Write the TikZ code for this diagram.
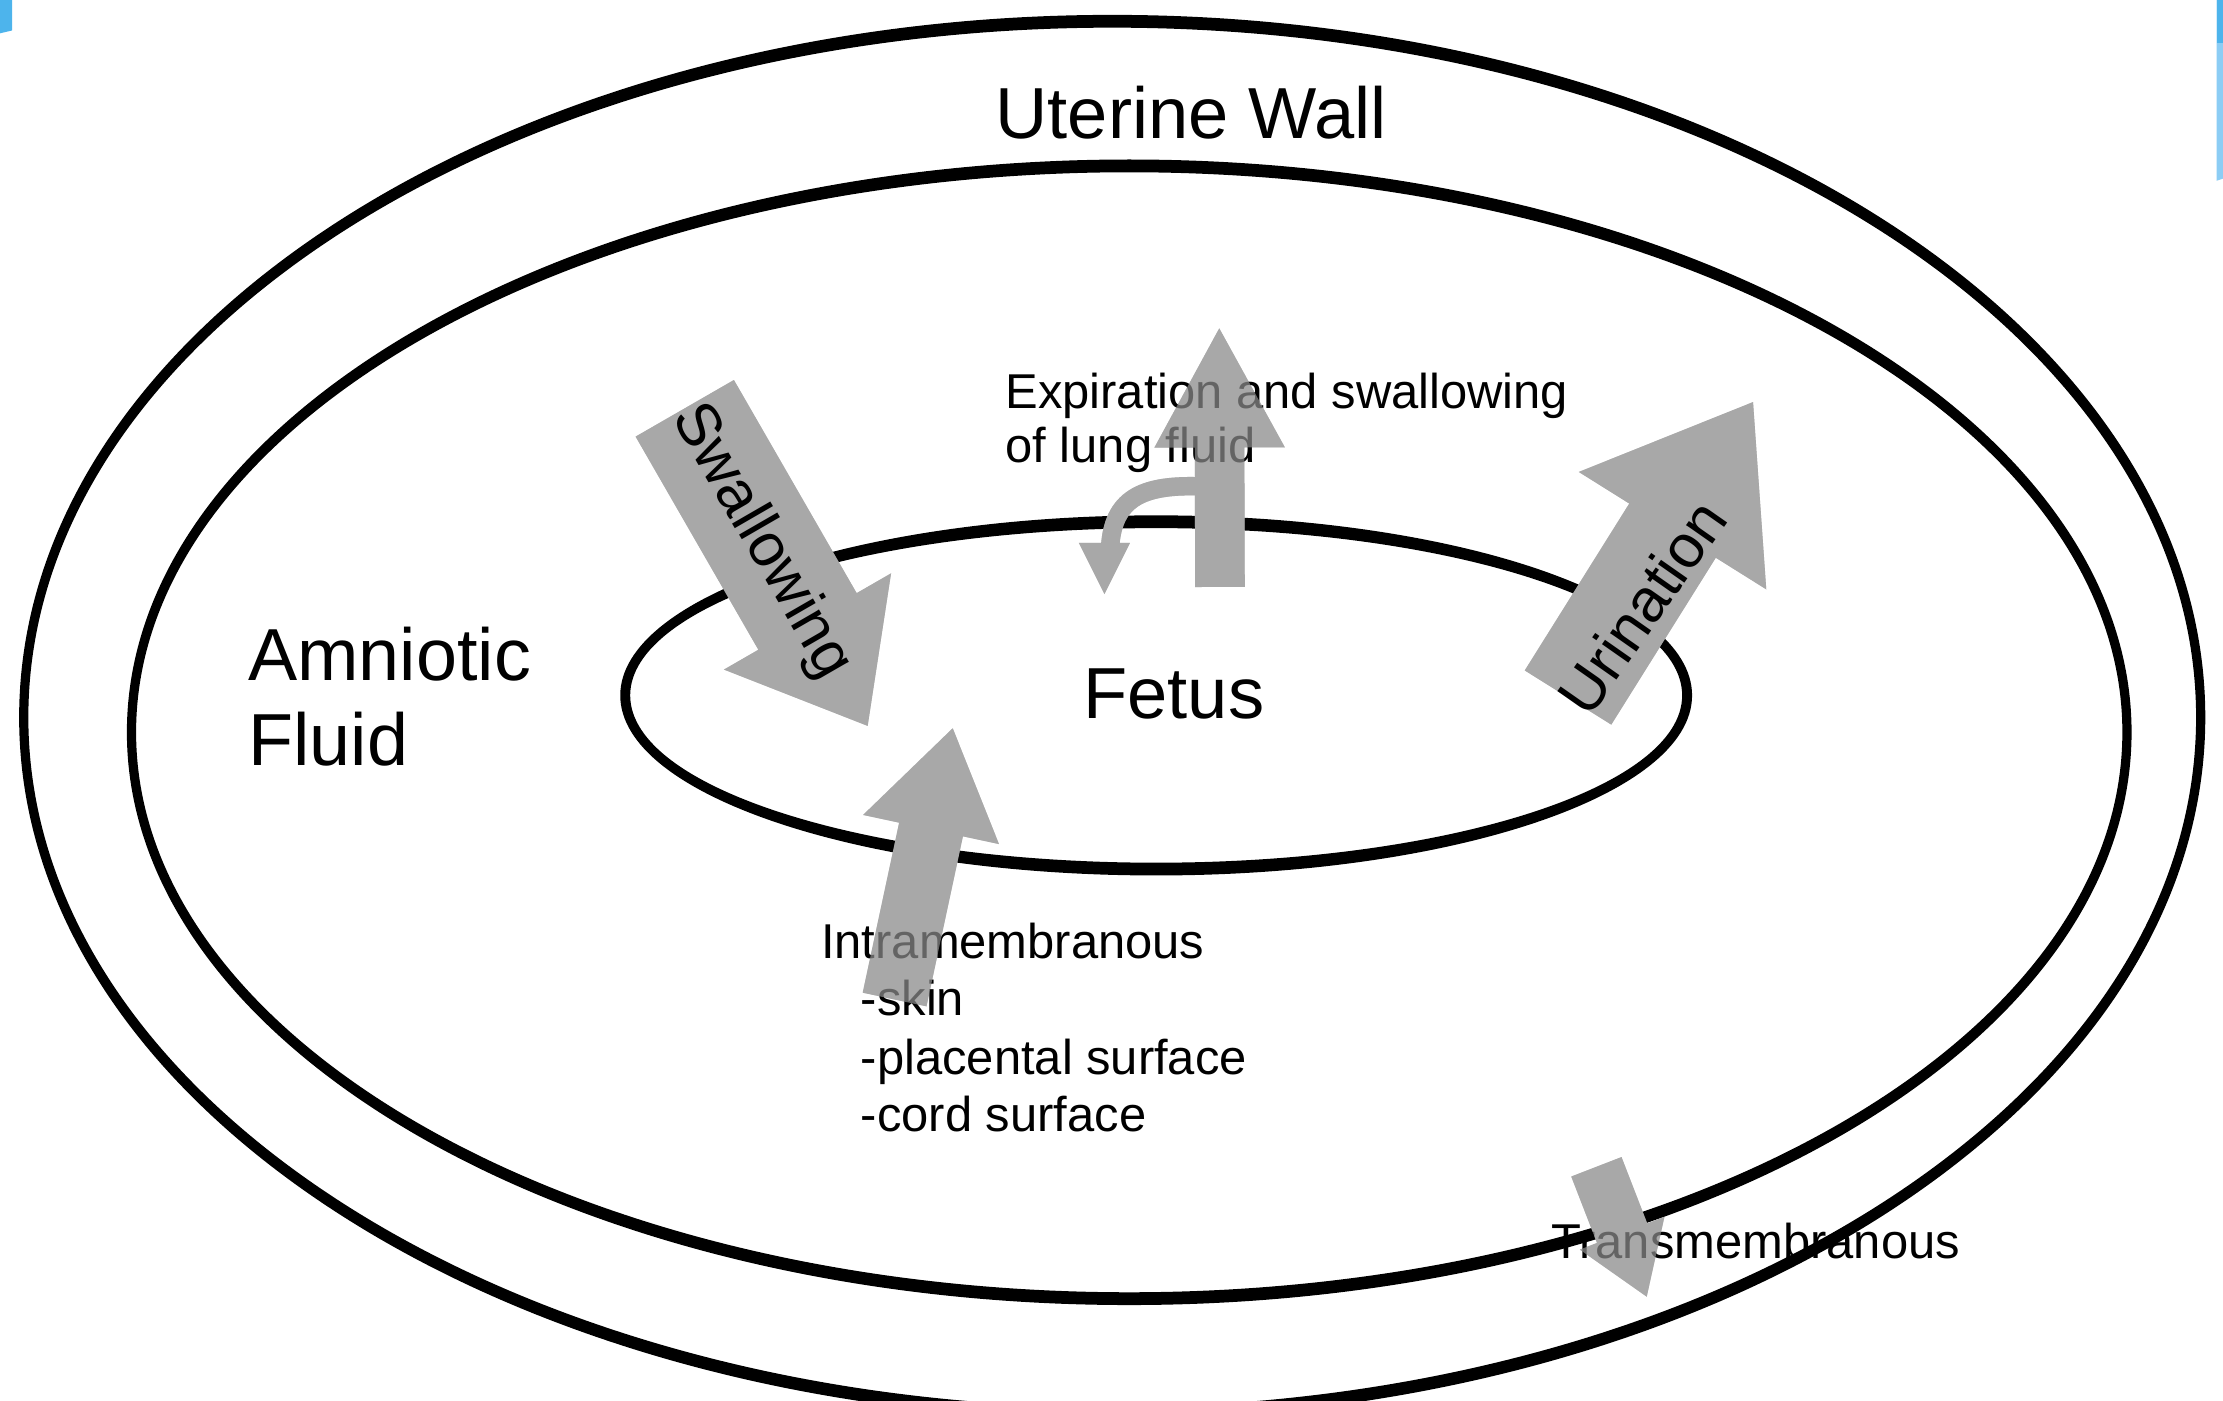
\documentclass[tikz,border=0pt]{standalone}
\usepackage{fontspec}
\setmainfont{Liberation Sans}
\usetikzlibrary{calc}
\definecolor{arrowgray}{RGB}{168,168,168}
\definecolor{bluemarkA}{RGB}{77,180,236}
\definecolor{bluemarkB}{RGB}{140,205,245}
% block arrow: #1 prefix of (prefix-tail),(prefix-tip); #2 style; #3 shaft half width; #4 head half width; #5 head length
\newcommand{\blockarrow}[5]{%
  \coordinate (#1-base) at ($(#1-tip)!#5!(#1-tail)$);
  \fill[#2] ($(#1-tail)!#3!90:(#1-tip)$) -- ($(#1-base)!#3!-90:(#1-tail)$) -- ($(#1-base)!#4!-90:(#1-tail)$) -- (#1-tip) -- ($(#1-base)!#4!90:(#1-tail)$) -- ($(#1-base)!#3!90:(#1-tail)$) -- ($(#1-tail)!#3!-90:(#1-tip)$) -- cycle;}
\newcommand{\allarrows}[1]{%
  \blockarrow{sw}{#1}{40pt}{68pt}{85pt}
  \blockarrow{ur}{#1}{36pt}{78pt}{107pt}
  \blockarrow{im}{#1}{23pt}{49pt}{73pt}
  \blockarrow{ex}{#1}{17.5pt}{46pt}{84pt}
  \blockarrow{tm}{#1}{19pt}{32pt}{48pt}
  \path[#1, fill=none, draw=arrowgray, line width=13pt] (curl-start) .. controls (805,342) and (785,352) .. (curl-end);
  \fill[#1] (761,383) -- (797,383) -- (curl-tip) -- cycle;}
\begin{document}
\begin{tikzpicture}[x=1pt,y=-1pt,
  big/.style={font=\fontsize{51}{60}\selectfont, inner sep=0pt, anchor=base west},
  small/.style={font=\fontsize{34.5}{40}\selectfont, inner sep=0pt, anchor=base west},
  rottext/.style={font=\fontsize{43}{48}\selectfont, inner sep=0pt},
  ring/.style={fill=black, even odd rule},
  arrowsolid/.style={fill=arrowgray},
  arrowveil/.style={fill=arrowgray, opacity=0.6}]
\useasboundingbox (0,0) rectangle (1568,988);
\fill[white] (0,0) rectangle (1568,988);
% blue edge marks
\fill[bluemarkA] (0,0) -- (8.5,0) -- (8.5,21.5) -- (0,23.5) -- cycle;
\fill[bluemarkB] (1563.5,0) -- (1568,0) -- (1568,126) -- (1563.5,127.5) -- cycle;
\fill[bluemarkA] (1563.5,0) rectangle (1568,30);
% ellipses
\coordinate (outer-c) at (784.5,506);
\coordinate (mid-c) at (796.5,516.5);
\coordinate (fetus-c) at (815.5,490.5);
\fill[ring] (outer-c) ellipse [x radius=771, y radius=495.5] (outer-c) ellipse [x radius=764.5, y radius=486.5];
\fill[ring] (mid-c) ellipse [x radius=707, y radius=404] (mid-c) ellipse [x radius=700.5, y radius=395];
\fill[ring] (fetus-c) ellipse [x radius=378, y radius=127] (fetus-c) ellipse [x radius=371, y radius=118];
% arrow coordinates
\coordinate (sw-tail) at (483,288);
\coordinate (sw-tip) at (612,512);
\coordinate (ur-tail) at (1106,492);
\coordinate (ur-tip) at (1236.5,283.6);
\coordinate (im-tail) at (631,705);
\coordinate (im-tip) at (672,513.7);
\coordinate (ex-tail) at (860.5,414);
\coordinate (ex-tip) at (860,231.6);
\coordinate (tm-tail) at (1126,823);
\coordinate (tm-tip) at (1161.5,914.6);
\coordinate (curl-start) at (845,343);
\coordinate (curl-end) at (783,386);
\coordinate (curl-tip) at (779,419);
\allarrows{arrowsolid}
% texts
\node[big] (wall) at (702,98) {Uterine Wall};
\node[big, font=\fontsize{52}{60}\selectfont] (amn) at (175,480) {Amniotic};
\node[big, font=\fontsize{52}{60}\selectfont] (fluid) at (175,540) {Fluid};
\node[big] (fetus) at (764,507) {Fetus};
\node[small] (exp1) at (709,288) {Expiration and swallowing};
\node[small] (exp2) at (709,326) {of lung fluid};
\node[small] (intra) at (579,676) {Intramembranous};
\node[small] (skin) at (607,716) {-skin};
\node[small] (plac) at (607,758) {-placental surface};
\node[small] (cord) at (607,798) {-cord surface};
\node[small] (trans) at (1094,888) {Transmembranous};
\allarrows{arrowveil}
\node[rottext, rotate=-60] (swtext) at (537,382) {Swallowing};
\node[rottext, rotate=55] (urtext) at (1158,428) {Urination};
\end{tikzpicture}
\end{document}
